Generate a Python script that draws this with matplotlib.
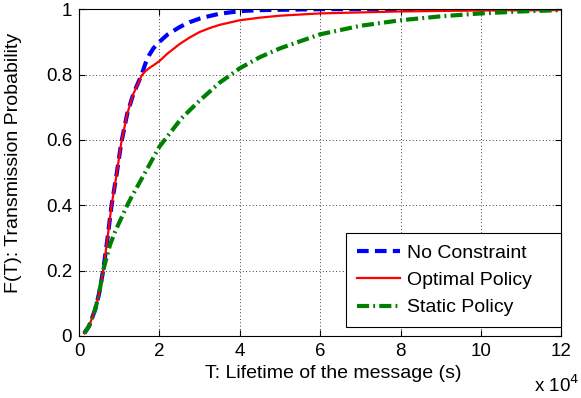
import numpy as np
import matplotlib.pyplot as plt

plt.rcParams['font.family'] = ['Liberation Sans', 'DejaVu Sans']

# Lifetime of the message, in units of 1e4 s
t_fast = [0.13, 0.25, 0.4, 0.5, 0.6, 0.7, 0.81, 0.93, 1.05, 1.2, 1.35, 1.56,
          1.65, 1.75, 1.85, 2.0, 2.2, 2.5, 2.75, 3.0, 3.25, 3.5, 4.0, 4.5, 5.0, 6.0,
          8.0, 10.0, 12.0]
no_constraint = [0.008, 0.03, 0.08, 0.13, 0.2, 0.29, 0.4, 0.49, 0.59, 0.68, 0.74, 0.8,
                 0.833, 0.86, 0.88, 0.90, 0.922, 0.945, 0.96, 0.971, 0.979, 0.986,
                 0.994, 0.997, 0.998, 1.0, 1.0, 1.0, 1.0]
optimal = [0.008, 0.03, 0.08, 0.13, 0.2, 0.29, 0.4, 0.49, 0.59, 0.68, 0.74, 0.797,
           0.81, 0.82, 0.828, 0.841, 0.864, 0.893, 0.913, 0.93, 0.942, 0.952,
           0.966, 0.974, 0.98, 0.987, 0.993, 0.996, 0.998]

t_static = [0.13, 0.25, 0.4, 0.5, 0.6, 0.77, 0.9, 1.05, 1.2, 1.31, 1.6, 2.0, 2.55,
            3.0, 3.5, 4.0, 4.5, 5.0, 6.0, 7.0, 8.0, 9.0, 10.0, 11.0, 12.0]
static = [0.008, 0.03, 0.08, 0.13, 0.2, 0.278, 0.32, 0.36, 0.40, 0.426, 0.49, 0.579, 0.666,
          0.72, 0.775, 0.819, 0.853, 0.88, 0.923, 0.949, 0.966, 0.978, 0.987, 0.993, 0.997]

fig = plt.figure(figsize=(5.81, 3.98), dpi=100)
ax = fig.add_axes([0.136, 0.156, 0.83, 0.821])

ax.plot(t_fast, no_constraint, color='#0000ff', linestyle=(0, (2.8, 1.5)), linewidth=3.0,
        label='No Constraint')
ax.plot(t_fast, optimal, color='#ff0000', linestyle='-', linewidth=1.6, label='Optimal Policy')
ax.plot(t_static, static, color='#008000', linestyle=(0, (2.9, 1.0, 0.45, 1.0)), linewidth=3.0,
        label='Static Policy')

ax.set_xlim(0, 12)
ax.set_ylim(0, 1)
ax.set_xticks(np.arange(0, 13, 2))
ax.set_yticks([0, 0.2, 0.4, 0.6, 0.8, 1])
ax.set_yticklabels(['0', '0.2', '0.4', '0.6', '0.8', '1'])
ax.tick_params(direction='in', top=True, right=True, labelsize=13.5, length=4, width=0.8, pad=5)
ax.grid(True, linestyle=(0, (1, 3)), color='black', linewidth=0.6)
for s in ax.spines.values():
    s.set_linewidth(0.8)

ax.set_xlabel('T: Lifetime of the message (s)', fontsize=14)
ax.set_ylabel('F(T): Transmission Probability', fontsize=14)
ax.xaxis.set_label_coords(0.527, -0.088)
ax.yaxis.set_label_coords(-0.118, 0.53)
fig.text(0.958, 0.033, r'x 10$^4$', fontsize=13.5, ha='center', va='center')

leg = ax.legend(loc='lower left', bbox_to_anchor=(0.554, 0.027, 0.446, 0.285), mode='expand',
                borderaxespad=0.0, fancybox=False, framealpha=1, edgecolor='black', fontsize=14,
                handlelength=2.2, handletextpad=0.4, labelspacing=0.5, borderpad=0.55)
leg.get_frame().set_linewidth(0.8)

fig.savefig('out.png', dpi=100)
